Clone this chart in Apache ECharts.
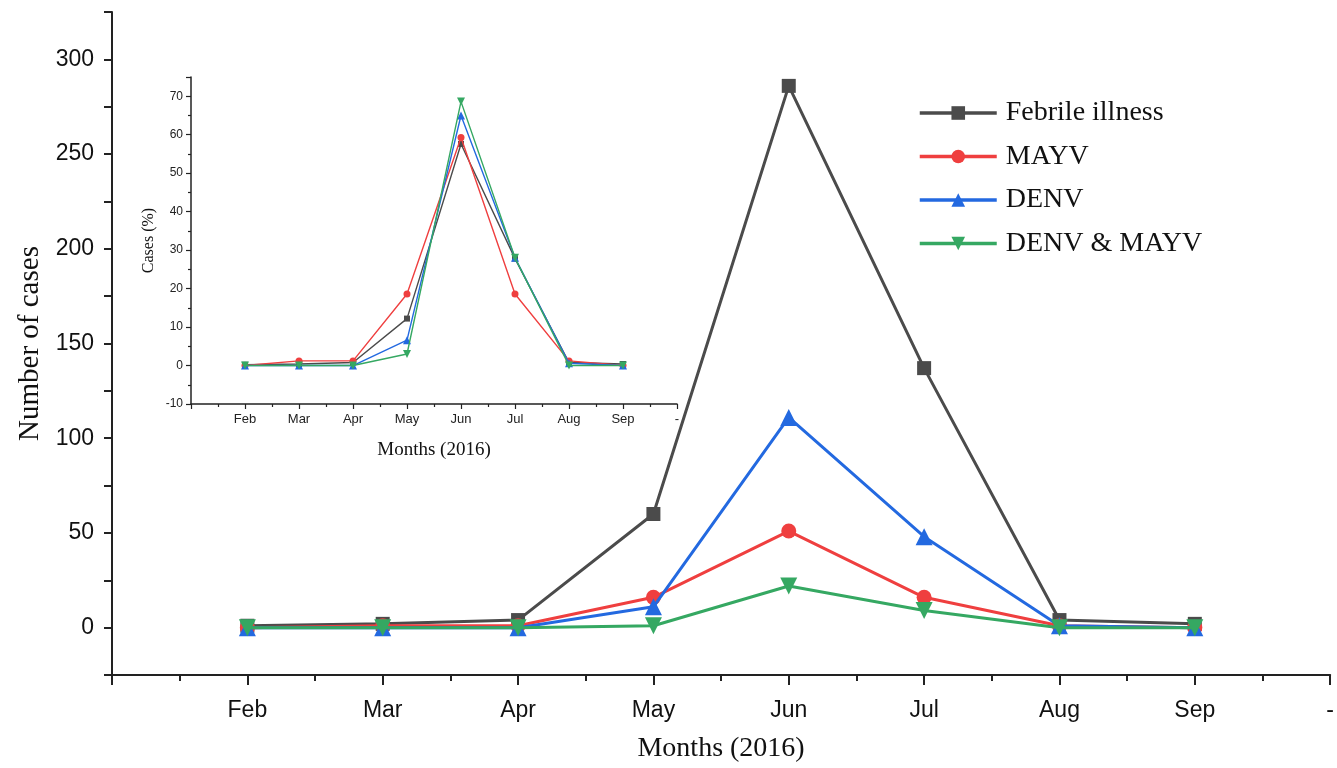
<!DOCTYPE html>
<html>
<head>
<meta charset="utf-8">
<script src="https://cdn.jsdelivr.net/npm/echarts@6/dist/echarts.min.js"></script>
<style>html,body{margin:0;padding:0;background:#fff}#c{width:1337px;height:768px}</style>
</head>
<body>
<div id="c"></div>
<script>
// ---- data ----
const months = ['Feb','Mar','Apr','May','Jun','Jul','Aug','Sep'];
const seriesNames = ['Febrile illness','MAYV','DENV','DENV & MAYV'];
// main chart: number of cases
const febrileCases = [1, 2, 4, 60, 286, 137, 4, 2];
const mayvCases    = [0, 1, 1, 16, 51, 16, 1, 0];
const denvCases    = [0, 0, 0, 11, 111, 48, 1, 0];
const bothCases    = [0, 0, 0, 1, 22, 9, 0, 0];
// inset: cases (%)
const febrilePct = [0.2, 0.4, 0.8, 12.2, 57.6, 27.8, 0.8, 0.4];
const mayvPct    = [0, 1.2, 1.2, 18.6, 59.3, 18.6, 1.2, 0];
const denvPct    = [0, 0, 0, 6.6, 65.0, 28.0, 0.6, 0];
const bothPct    = [0, 0, 0, 3.0, 68.6, 28.0, 0, 0];

const colors = ['#4b4b4b', '#ef3f3f', '#2369e0', '#35a862'];
const symbols = ['rect', 'circle', 'triangle', 'triangle'];
const rotates = [0, 0, 0, 180];
const mainSizes = [14, 15, 17, 17];
const insetSizes = [6, 7, 8, 8];

const toPts = arr => arr.map((v, i) => [i + 1, v]);
const mainData = [febrileCases, mayvCases, denvCases, bothCases];
const insetData = [febrilePct, mayvPct, denvPct, bothPct];

const serif = 'Liberation Serif';
const sans = 'Liberation Sans';
const axisColor = '#222';

const monthFmt = v => (v >= 1 && v <= 8 ? months[v - 1] : (v === 9 ? '-' : ''));

const series = [];
mainData.forEach((d, k) => {
  series.push({
    name: seriesNames[k], type: 'line', xAxisIndex: 0, yAxisIndex: 0,
    data: toPts(d), symbol: symbols[k], symbolRotate: rotates[k], symbolSize: mainSizes[k],
    showAllSymbol: true, z: 2 + k,
    lineStyle: { color: colors[k], width: 3 }, itemStyle: { color: colors[k] },
    emphasis: { disabled: true }, animation: false
  });
});
insetData.forEach((d, k) => {
  series.push({
    name: seriesNames[k] + ' %', type: 'line', xAxisIndex: 1, yAxisIndex: 1,
    data: toPts(d), symbol: symbols[k], symbolRotate: rotates[k], symbolSize: insetSizes[k],
    z: 10 + k,
    lineStyle: { color: colors[k], width: 1.4 }, itemStyle: { color: colors[k] },
    emphasis: { disabled: true }, animation: false
  });
});

const chart = echarts.init(document.getElementById('c'), null, { renderer: 'canvas' });
chart.setOption({
  backgroundColor: '#fff',
  animation: false,
  grid: [
    { left: 112, top: 12, right: 0, bottom: 91 },
    { left: 191, top: 77, width: 486, height: 327 }
  ],
  legend: {
    data: seriesNames, orient: 'vertical', left: 913, top: 94,
    itemWidth: 77, itemHeight: 17, itemGap: 15.5,
    lineStyle: { width: 3.5 },
    textStyle: { fontFamily: serif, fontSize: 28, color: '#111', padding: [0, 0, 0, 4] }
  },
  xAxis: [
    {
      gridIndex: 0, type: 'value', min: 0, max: 9, interval: 1,
      name: 'Months (2016)', nameLocation: 'middle', nameGap: 60,
      nameTextStyle: { fontFamily: serif, fontSize: 28, color: '#111' },
      axisLine: { show: true, onZero: false, lineStyle: { color: axisColor, width: 2 } },
      axisTick: { show: true, inside: false, length: 10, lineStyle: { color: axisColor, width: 2 } },
      minorTick: { show: true, splitNumber: 2, length: 6, lineStyle: { color: axisColor, width: 2 } },
      axisLabel: { formatter: monthFmt, fontFamily: sans, fontSize: 23, color: '#111', margin: 24, showMaxLabel: true },
      splitLine: { show: false }
    },
    {
      gridIndex: 1, type: 'value', min: 0, max: 9, interval: 1,
      name: 'Months (2016)', nameLocation: 'middle', nameGap: 37,
      nameTextStyle: { fontFamily: serif, fontSize: 19, color: '#111' },
      axisLine: { show: true, onZero: false, lineStyle: { color: axisColor, width: 1.5 } },
      axisTick: { show: true, inside: false, length: 5, lineStyle: { color: axisColor, width: 1.2 } },
      minorTick: { show: true, splitNumber: 2, length: 3, lineStyle: { color: axisColor, width: 1.2 } },
      axisLabel: { formatter: monthFmt, fontFamily: sans, fontSize: 13, color: '#222', margin: 9, showMaxLabel: true },
      splitLine: { show: false }
    }
  ],
  yAxis: [
    {
      gridIndex: 0, type: 'value', min: -25, max: 325, interval: 25,
      name: 'Number of cases', nameLocation: 'middle', nameGap: 63,
      nameTextStyle: { fontFamily: serif, fontSize: 29, color: '#111' },
      axisLine: { show: true, onZero: false, lineStyle: { color: axisColor, width: 2 } },
      axisTick: { show: true, inside: false, length: 8, lineStyle: { color: axisColor, width: 2 } },
      axisLabel: {
        formatter: v => (v >= 0 && v <= 300 && v % 50 === 0 ? String(v) : ''),
        fontFamily: sans, fontSize: 23, color: '#111', margin: 18, showMaxLabel: true, showMinLabel: true
      },
      splitLine: { show: false }
    },
    {
      gridIndex: 1, type: 'value', min: -10, max: 75, interval: 10,
      name: 'Cases (%)', nameLocation: 'middle', nameGap: 34,
      nameTextStyle: { fontFamily: serif, fontSize: 16, color: '#111' },
      axisLine: { show: true, onZero: false, lineStyle: { color: axisColor, width: 1.5 } },
      axisTick: { show: true, inside: false, length: 5, lineStyle: { color: axisColor, width: 1.2 } },
      minorTick: { show: true, splitNumber: 2, length: 3, lineStyle: { color: axisColor, width: 1.2 } },
      axisLabel: {
        formatter: v => (v % 10 === 0 ? String(v) : ''),
        fontFamily: sans, fontSize: 12, color: '#222', margin: 8
      },
      splitLine: { show: false }
    }
  ],
  series: series
});
</script>
</body>
</html>
